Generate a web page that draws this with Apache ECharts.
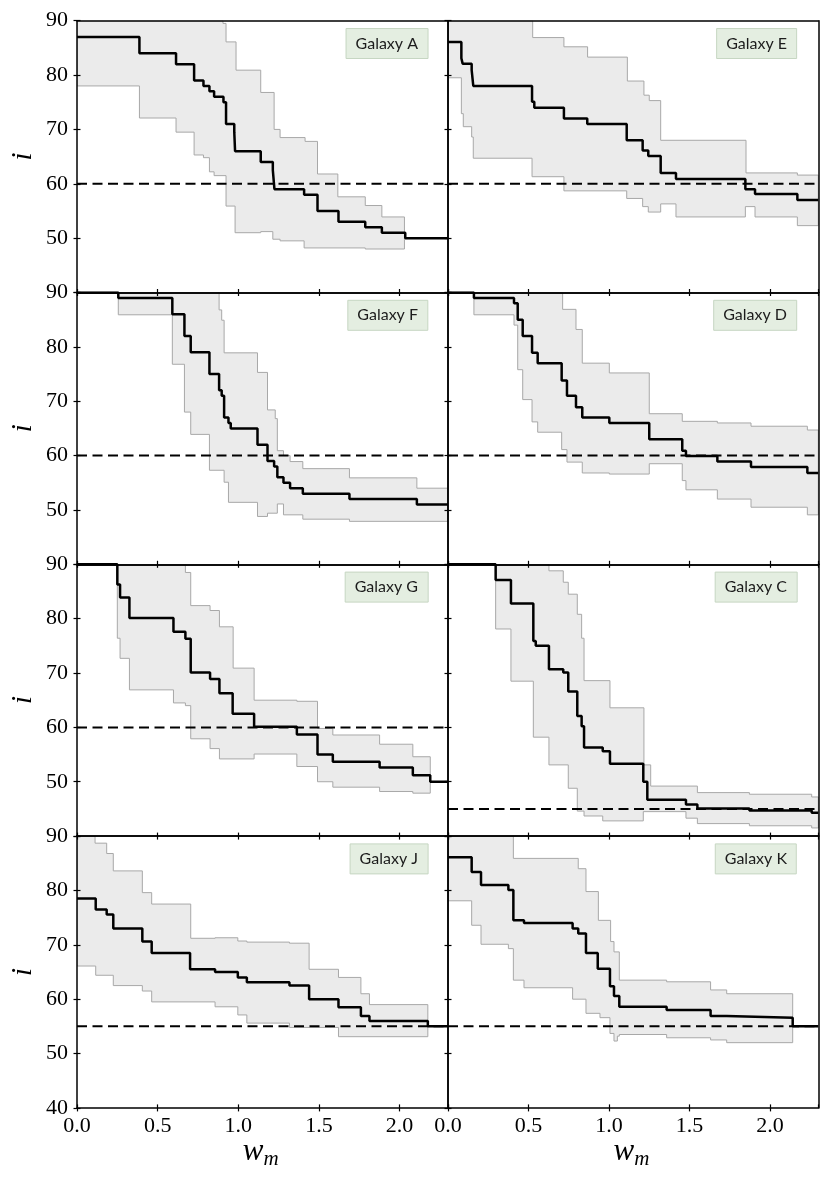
<!DOCTYPE html>
<html><head><meta charset="utf-8">
<script src="https://cdn.jsdelivr.net/npm/echarts@6/dist/echarts.min.js"></script>
<style>html,body{margin:0;padding:0;background:#fff}#c{width:831px;height:1183px}</style>
</head><body><div id="c"></div>
<script>
// ---------- data (x = w_m, y = i); each step holds its value until the next x ----------
const galaxyNames = ['Galaxy A','Galaxy E','Galaxy F','Galaxy D','Galaxy G','Galaxy C','Galaxy J','Galaxy K'];
const refLevels   = [60, 60, 60, 60, 60, 45, 55, 55];
const xTicks = [0, 0.5, 1.0, 1.5, 2.0];
const yTicks = [40, 50, 60, 70, 80, 90];

const galA_med = [[0,87],[0.387,84],[0.614,82],[0.726,79],[0.784,78],[0.821,77],[0.85,76],[0.908,75],[0.924,71],[0.975,69.5],[0.98,66],[1.139,64],[1.214,62.5],[1.224,59],[1.408,58],[1.491,55],[1.621,53],[1.787,52],[1.89,51],[2.035,50],[2.3,50]];
const galA_up  = [[0,90],[0.905,89.5],[0.924,86.1],[0.986,80.9],[1.139,76.8],[1.222,70],[1.259,68.5],[1.414,67.8],[1.491,61.8],[1.617,57.6],[1.787,56],[1.89,53.9],[2.03,53.9]];
const galA_lo  = [[0,78],[0.387,72.1],[0.614,69.5],[0.726,65.3],[0.784,64.8],[0.821,62.2],[0.85,61.5],[0.924,55.9],[0.98,51],[1.139,51.2],[1.214,49.8],[1.259,49.5],[1.408,48.2],[1.787,48],[2.03,48]];

const galE_med = [[0,86.1],[0.083,83.1],[0.091,82.1],[0.147,80.9],[0.157,78],[0.522,75.1],[0.536,74],[0.72,72],[0.865,71],[1.11,68],[1.209,66.1],[1.244,65.1],[1.321,62],[1.416,60.9],[1.847,59],[1.907,58.1],[2.17,57],[2.3,57]];
const galE_up  = [[0,90],[0.526,86.9],[0.72,85.2],[0.867,83.3],[1.114,78.9],[1.217,76.3],[1.25,75.3],[1.321,68],[1.851,62],[2.17,61.6],[2.3,61.6]];
const galE_lo  = [[0,79.5],[0.083,72.9],[0.095,70.5],[0.147,68.6],[0.157,64.7],[0.522,61.3],[0.72,58.7],[1.11,57.3],[1.209,55.8],[1.244,54.8],[1.321,56.3],[1.416,53.9],[1.847,55.8],[1.907,53.9],[2.17,52.3],[2.3,52.3]];

const galF_med = [[0,90],[0.256,89],[0.591,86],[0.666,82],[0.705,79],[0.821,75],[0.881,72],[0.897,71],[0.912,67],[0.939,66],[0.953,65],[1.119,62],[1.181,59],[1.222,58],[1.242,56],[1.28,55],[1.321,54],[1.4,53],[1.689,52],[2.107,51],[2.3,51]];
const galF_up  = [[0.256,90],[0.881,86.8],[0.897,84.9],[0.912,78.9],[1.119,75.3],[1.181,68.4],[1.229,66.8],[1.242,60.9],[1.28,60],[1.321,58.9],[1.4,57.6],[1.689,55.9],[2.107,54],[2.3,54]];
const galF_lo  = [[0.256,85.9],[0.591,76.8],[0.666,68],[0.705,63.9],[0.821,57.3],[0.912,55.1],[0.939,51.4],[1.119,48.8],[1.181,49.4],[1.242,51.1],[1.28,49.1],[1.4,48.3],[1.689,47.9],[2.3,47.9]];

const galD_med = [[0,90],[0.161,89],[0.41,88],[0.433,85],[0.464,82],[0.522,78.9],[0.557,77],[0.706,73.8],[0.739,71],[0.795,68.9],[0.834,67],[1.002,66],[1.25,63],[1.455,60.9],[1.478,59.9],[1.673,58.9],[1.882,57.9],[2.232,56.8],[2.3,56.8]];
const galD_up  = [[0.161,90],[0.712,86.9],[0.795,83.2],[0.834,77],[1.002,75.2],[1.25,67.7],[1.455,66.3],[1.673,66],[1.882,65.4],[2.232,64.7],[2.3,64.7]];
const galD_lo  = [[0.161,85.9],[0.41,84],[0.433,75.8],[0.464,70.3],[0.522,66.2],[0.557,64.3],[0.706,61.1],[0.739,58.8],[0.834,56.8],[1.002,56.6],[1.25,58.5],[1.455,55.4],[1.478,53.7],[1.673,52],[1.882,50.5],[2.232,49.1],[2.3,49.1]];

const galG_med = [[0,90],[0.25,86.3],[0.267,83.9],[0.325,80.1],[0.598,77.6],[0.672,76.3],[0.705,70.1],[0.825,68.9],[0.883,66.3],[0.965,62.5],[1.098,60.1],[1.363,58.7],[1.491,55],[1.586,53.7],[1.876,52.6],[2.082,51.2],[2.19,50],[2.3,50]];
const galG_up  = [[0.25,90],[0.672,88.5],[0.705,82.4],[0.825,81.5],[0.883,78.5],[0.968,70.9],[1.098,65],[1.363,64.8],[1.491,59.8],[1.586,58.6],[1.876,56.9],[2.082,54.6],[2.19,54.6]];
const galG_lo  = [[0.25,76.4],[0.267,72.7],[0.325,66.9],[0.598,64.5],[0.672,64],[0.705,57.9],[0.825,56.1],[0.883,54.2],[1.098,55.1],[1.363,52.8],[1.491,50],[1.586,49],[1.876,48.2],[2.082,47.9],[2.19,47.9]];

const galC_med = [[0,90],[0.296,87.1],[0.391,82.8],[0.53,75.9],[0.545,75],[0.627,70.7],[0.716,70.1],[0.747,66.6],[0.803,62.1],[0.83,60.2],[0.845,56.3],[0.961,55.6],[1.006,53.3],[1.213,50],[1.238,46.7],[1.478,45.8],[1.549,45.1],[1.872,44.7],[2.259,44.3],[2.3,44.3]];
const galC_up  = [[0.296,90],[0.627,88.8],[0.716,86.7],[0.747,84.5],[0.803,80.8],[0.83,76.4],[0.845,68.6],[1.006,63.6],[1.217,53.1],[1.259,49.2],[1.549,48],[1.872,47.7],[2.259,47.2],[2.3,47.2]];
const galC_lo  = [[0.296,78.1],[0.391,68.5],[0.53,58.2],[0.627,53.1],[0.747,48.8],[0.803,44.6],[0.845,43.7],[0.961,42.8],[1.213,44.5],[1.478,43.3],[1.549,42.3],[1.872,41.9],[2.259,41.5],[2.3,41.5]];

const galJ_med = [[0,78.5],[0.116,76.5],[0.184,75.6],[0.225,73],[0.405,70.6],[0.463,68.5],[0.701,65.5],[0.856,65],[0.997,64],[1.053,63.1],[1.317,62.5],[1.439,60],[1.621,58.5],[1.76,56.9],[1.813,56],[2.175,55],[2.3,55]];
const galJ_up  = [[0,90],[0.112,88.7],[0.184,86.8],[0.225,83.6],[0.405,79.6],[0.463,77.5],[0.705,71.2],[0.856,71.3],[0.997,70.7],[1.053,70.5],[1.317,70.3],[1.439,65.5],[1.621,64],[1.76,61],[1.813,59],[2.175,59]];
const galJ_lo  = [[0,66.1],[0.116,64.4],[0.225,62.5],[0.405,61.5],[0.463,59.5],[0.856,58.6],[0.997,57.1],[1.053,55.6],[1.317,54.8],[1.621,53.1],[2.175,53.1]];

const galK_med = [[0,86.1],[0.147,83.4],[0.205,81],[0.375,80.1],[0.406,74.5],[0.472,74],[0.774,73],[0.809,72.1],[0.857,68.5],[0.93,65.6],[1.006,62.4],[1.031,60.6],[1.064,58.6],[1.358,58],[1.631,56.9],[1.731,56.6],[2.141,55],[2.3,55]];
const galK_up  = [[0,90],[0.406,85.9],[0.809,84],[0.857,79.8],[0.934,74.5],[1.01,70.6],[1.031,68.7],[1.064,63.5],[1.358,63.2],[1.631,61.7],[1.731,61],[2.141,61]];
const galK_lo  = [[0,78.1],[0.147,73.6],[0.205,70.1],[0.375,69.3],[0.406,63.5],[0.472,62.1],[0.774,60],[0.857,57.4],[0.944,56.6],[1.006,53.7],[1.031,52.3],[1.052,53.2],[1.064,53.5],[1.358,52.9],[1.631,52.5],[1.731,52],[2.141,52]];

const medians = [galA_med, galE_med, galF_med, galD_med, galG_med, galC_med, galJ_med, galK_med];
const uppers  = [galA_up,  galE_up,  galF_up,  galD_up,  galG_up,  galC_up,  galJ_up,  galK_up];
const lowers  = [galA_lo,  galE_lo,  galF_lo,  galD_lo,  galG_lo,  galC_lo,  galJ_lo,  galK_lo];

// ---------- layout ----------
const ROW_TOP0 = 20.7, ROW_H = 271.8;
const COL_LEFT = [77, 448], COL_W = [371, 370.3];
const SERIF = 'Liberation Serif';
const X_MIN = 0, X_MAX = 2.3, Y_MIN = 40, Y_MAX = 90;

function stepPts(arr) {
  const out = [];
  for (let k = 0; k < arr.length - 1; k++) {
    out.push([arr[k][0], arr[k][1]]);
    out.push([arr[k + 1][0], arr[k][1]]);
  }
  return out;
}

const grid = [], xAxis = [], yAxis = [], series = [], title = [], graphic = [];
const tickStyle = { color: '#000', width: 1.2 };
const lineStyleAxis = { color: '#000', width: 1.5 };
const labelFont = { fontFamily: SERIF, fontSize: 22, color: '#000' };

for (let p = 0; p < 8; p++) {
  const r = Math.floor(p / 2), c = p % 2;
  const top = ROW_TOP0 + r * ROW_H;
  const bottomRow = r === 3;
  grid.push({ left: COL_LEFT[c], top: top, width: COL_W[c], height: ROW_H, containLabel: false });

  const xBase = { gridIndex: p, type: 'value', min: X_MIN, max: X_MAX, interval: xTicks[1] - xTicks[0], splitLine: { show: false }, z: 5 };
  xAxis.push(Object.assign({}, xBase, {
    position: 'bottom',
    axisLine: { show: true, onZero: false, lineStyle: lineStyleAxis },
    axisTick: { show: true, inside: false, length: 3.5, lineStyle: tickStyle },
    axisLabel: Object.assign({ show: bottomRow, showMaxLabel: false, formatter: v => xTicks.includes(v) ? v.toFixed(1) : '', margin: 7 }, labelFont)
  }));
  xAxis.push(Object.assign({}, xBase, {
    position: 'bottom', axisLine: { show: false },
    axisTick: { show: true, inside: true, length: 3.5, lineStyle: tickStyle },
    axisLabel: { show: false }
  }));
  xAxis.push(Object.assign({}, xBase, {
    position: 'top', axisLine: { show: true, onZero: false, lineStyle: lineStyleAxis },
    axisTick: { show: false }, axisLabel: { show: false }
  }));

  const yBase = { gridIndex: p, type: 'value', min: Y_MIN, max: Y_MAX, interval: yTicks[1] - yTicks[0], splitLine: { show: false }, z: 5 };
  yAxis.push(Object.assign({}, yBase, {
    position: 'left',
    axisLine: { show: true, onZero: false, lineStyle: lineStyleAxis },
    axisTick: { show: true, inside: false, length: 3.5, lineStyle: tickStyle },
    axisLabel: Object.assign({ show: c === 0, formatter: v => (v === Y_MIN && !bottomRow) ? '' : String(v), margin: 9 }, labelFont)
  }));
  yAxis.push(Object.assign({}, yBase, {
    position: 'left', axisLine: { show: false },
    axisTick: { show: true, inside: true, length: 3.5, lineStyle: tickStyle },
    axisLabel: { show: false }
  }));
  yAxis.push(Object.assign({}, yBase, {
    position: 'right', axisLine: { show: true, onZero: false, lineStyle: lineStyleAxis },
    axisTick: { show: false }, axisLabel: { show: false }
  }));

  // y-axis title "i", rotated to read bottom-to-top (left column only)
  if (c === 0) {
    graphic.push({
      type: 'text', x: 23, y: top + ROW_H / 2, rotation: Math.PI / 2,
      style: { text: 'i', font: 'italic 30px "Liberation Serif"', fill: '#000', align: 'center', verticalAlign: 'middle' }
    });
  }
  if (bottomRow) {
    const cx = COL_LEFT[c] + COL_W[c] / 2 + 1;
    graphic.push({ type: 'text', x: cx, y: 1167, style: { text: 'w', font: 'italic 31px "Liberation Serif"', fill: '#000', align: 'right', verticalAlign: 'bottom' } });
    graphic.push({ type: 'text', x: cx, y: 1170, style: { text: 'm', font: 'italic 21px "Liberation Serif"', fill: '#000', align: 'left', verticalAlign: 'bottom' } });
  }

  const up = uppers[p], lo = lowers[p];
  series.push({
    type: 'custom', xAxisIndex: 3 * p, yAxisIndex: 3 * p, z: 1, silent: true, clip: true,
    data: [[up[0][0], up[0][1]]],
    renderItem: function (params, api) {
      const pts = [];
      stepPts(up).forEach(d => pts.push(api.coord(d)));
      stepPts(lo).reverse().forEach(d => pts.push(api.coord(d)));
      return { type: 'polygon', shape: { points: pts }, style: { fill: '#ebebeb', stroke: '#a8a8a8', lineWidth: 1 } };
    }
  });
  series.push({
    type: 'line', step: 'end', xAxisIndex: 3 * p, yAxisIndex: 3 * p, data: medians[p],
    symbol: 'none', lineStyle: { color: '#000', width: 2.5 }, z: 3, silent: true
  });
  series.push({
    type: 'line', xAxisIndex: 3 * p, yAxisIndex: 3 * p, data: [[X_MIN, refLevels[p]], [X_MAX, refLevels[p]]],
    symbol: 'none', lineStyle: { color: '#000', width: 2, type: [10, 5.5] }, z: 4, silent: true
  });

  title.push({
    text: galaxyNames[p], right: c === 0 ? 403 : 34, top: top + 7.3,
    padding: [6, 10, 6, 10], backgroundColor: '#e4eee1', borderColor: '#c6d6c2', borderWidth: 1,
    textStyle: { fontFamily: 'Lato', fontSize: 16, fontWeight: 'normal', color: '#1c1c1c', lineHeight: 19 }
  });
}

const chart = echarts.init(document.getElementById('c'), null, { renderer: 'canvas' });
chart.setOption({ animation: false, backgroundColor: '#fff', title, grid, xAxis, yAxis, series, graphic });
</script></body></html>
